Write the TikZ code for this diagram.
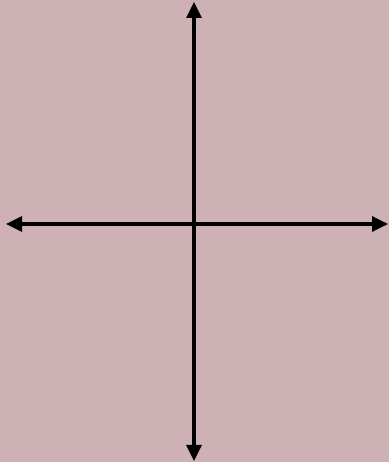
\documentclass[tikz,border=0pt]{standalone}
\usepackage{tikz}
\usetikzlibrary{arrows.meta}
\definecolor{paper}{RGB}{205,177,181}

\begin{document}
\begin{tikzpicture}[
    x=1pt, y=1pt,
    axis/.style={
      {Triangle[length=16pt,width=15pt]}-{Triangle[length=16pt,width=15pt]},
      line width=3.3pt,
      black
    }
  ]
    \fill[paper] (0,0) rectangle (389,462);
    \useasboundingbox (0,0) rectangle (389,462);
    \coordinate (top) at (194,460);
    \coordinate (bottom) at (194,1);
    \coordinate (left) at (6,238);
    \coordinate (right) at (388,238);
    \draw[axis] (bottom) -- (top);
    \draw[axis] (left) -- (right);
  \end{tikzpicture}
\end{document}
